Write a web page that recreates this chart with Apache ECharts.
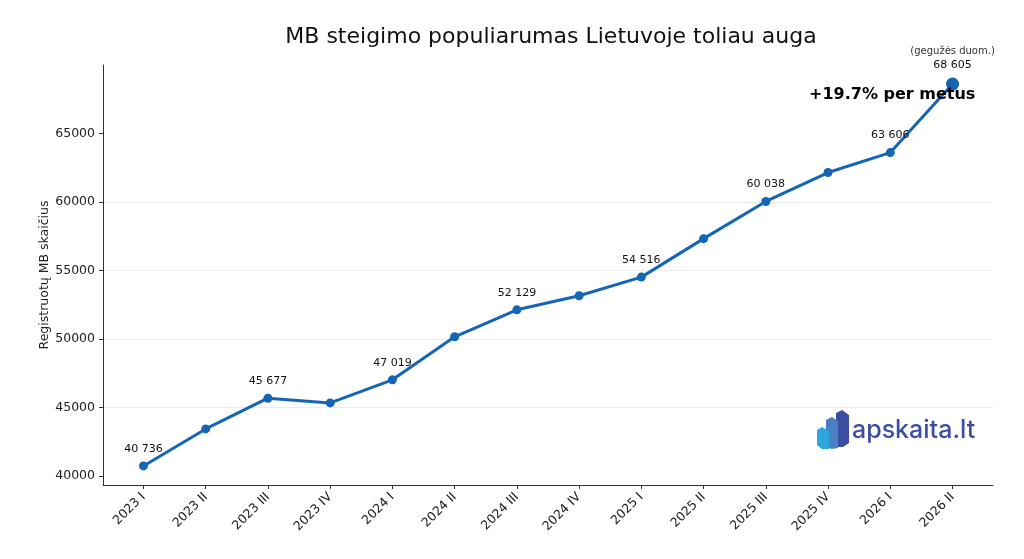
<!DOCTYPE html>
<html>
<head>
<meta charset="utf-8">
<script src="https://cdn.jsdelivr.net/npm/echarts@6/dist/echarts.min.js"></script>
<style>
  html, body { margin: 0; padding: 0; background: #fff; }
  #chart { width: 1024px; height: 559px; }
</style>
</head>
<body>
<div id="chart"></div>
<script>
  // ketvirčiai
  var categories = ['2023 I', '2023 II', '2023 III', '2023 IV', '2024 I', '2024 II', '2024 III',
    '2024 IV', '2025 I', '2025 II', '2025 III', '2025 IV', '2026 I', '2026 II'];
  // registruotų MB skaičius
  var values = [40736, 43436, 45677, 45336, 47019, 50161, 52129, 53158, 54516, 57325, 60038, 62149, 63606, 68605];
  // kuriems taškams rodomos reikšmės
  var labelIndexes = [0, 2, 4, 6, 8, 10, 12, 13];
  var yTicks = [40000, 45000, 50000, 55000, 60000, 65000];
  var xTicks = categories.map(function (c, i) { return i; });

  var font = 'DejaVu Sans';
  var lineColor = '#1565b5';

  function fmt(v) {
    return String(v).replace(/\B(?=(\d{3})+(?!\d))/g, ' ');
  }

  var chart = echarts.init(document.getElementById('chart'), null, { renderer: 'canvas' });

  var last = values.length - 1;
  var seriesData = values.map(function (v, i) {
    var show = labelIndexes.indexOf(i) >= 0;
    return {
      value: [i, v],
      symbolSize: i === last ? 13 : 9,
      label: {
        show: show,
        formatter: i === last ? '{s|(gegužės duom.)}\n' + fmt(v) : fmt(v)
      }
    };
  });

  var option = {
    animation: false,
    backgroundColor: '#fff',
    title: {
      text: 'MB steigimo populiarumas Lietuvoje toliau auga',
      left: 546,
      top: 21,
      textAlign: 'center',
      textStyle: { fontFamily: font, fontSize: 22, fontWeight: 'normal', color: '#111' }
    },
    grid: { left: 103, right: 31, top: 65, bottom: 74 },
    xAxis: {
      type: 'value',
      min: -0.65,
      max: 13.65,
      axisLine: { show: true, onZero: false, lineStyle: { color: '#333', width: 1 } },
      axisTick: { show: true, customValues: xTicks, length: 4, lineStyle: { color: '#333' } },
      axisLabel: {
        customValues: xTicks,
        rotate: 45,
        margin: 10,
        fontFamily: font,
        fontSize: 12.5,
        color: '#222',
        formatter: function (v) { return categories[Math.round(v)]; }
      },
      splitLine: { show: false }
    },
    yAxis: {
      type: 'value',
      min: 39343,
      max: 69998,
      name: 'Registruotų MB skaičius',
      nameLocation: 'middle',
      nameRotate: 90,
      nameGap: 52,
      nameMoveOverlap: false,
      nameTextStyle: { fontFamily: font, fontSize: 12.5, color: '#222' },
      axisLine: { show: true, onZero: false, lineStyle: { color: '#333', width: 1 } },
      axisTick: { show: true, customValues: yTicks, length: 4, lineStyle: { color: '#333' } },
      axisLabel: {
        customValues: yTicks,
        margin: 8,
        fontFamily: font,
        fontSize: 12.5,
        color: '#222',
        formatter: function (v) { return String(v); }
      },
      splitLine: {
        show: true,
        showMinLine: false,
        showMaxLine: false,
        lineStyle: { color: '#ececec', width: 1 }
      }
    },
    series: [
      {
        name: 'MB',
        type: 'line',
        z: 3,
        data: seriesData,
        symbol: 'circle',
        lineStyle: { color: lineColor, width: 3 },
        itemStyle: { color: lineColor },
        labelLayout: { hideOverlap: false },
        label: {
          show: true,
          position: 'top',
          distance: 7,
          fontFamily: font,
          fontSize: 11,
          color: '#111',
          textBorderWidth: 0,
          rich: {
            s: { fontFamily: font, fontSize: 10, color: '#333', lineHeight: 17, textBorderWidth: 0 }
          }
        }
      }
    ],
    graphic: [
      {
        type: 'text',
        left: 809,
        top: 87,
        z: 10,
        style: {
          text: '+19.7% per metus',
          fontFamily: font,
          fontSize: 16,
          fontWeight: 'bold',
          fill: '#000'
        }
      },
      {
        type: 'group',
        children: [
          { type: 'polygon', shape: { points: [[836, 413], [842, 410], [849, 415], [849, 443], [843, 447], [836, 447]] }, style: { fill: '#3b4ea2' } },
          { type: 'polygon', shape: { points: [[826, 420], [832, 417], [838, 421], [838, 448], [832, 449], [826, 447]] }, style: { fill: '#4a7fc3' } },
          { type: 'polygon', shape: { points: [[817, 430], [822, 427], [829, 431], [829, 449], [822, 449], [817, 445]] }, style: { fill: '#2ba6df' } },
          {
            type: 'text',
            left: 852,
            top: 418,
            style: { text: 'apskaita.lt', fontFamily: 'Inter', fontSize: 25, fontWeight: 500, fill: '#3b4ea2' }
          }
        ]
      }
    ]
  };

  chart.setOption(option);
</script>
</body>
</html>
